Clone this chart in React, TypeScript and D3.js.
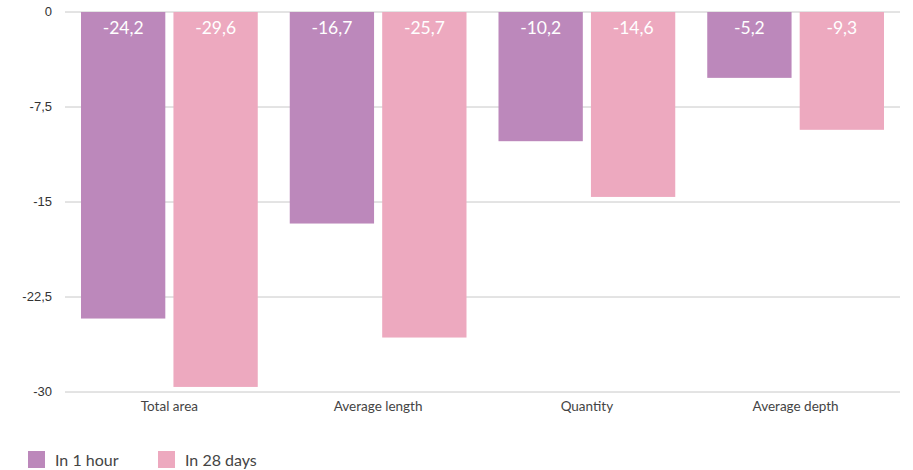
import * as d3 from "d3";

const categories = ["Total area", "Average length", "Quantity", "Average depth"];
const seriesNames = ["In 1 hour", "In 28 days"];
const in1Hour = [-24.2, -16.7, -10.2, -5.2];
const in28Days = [-29.6, -25.7, -14.6, -9.3];
const yTicks = [0, -7.5, -15, -22.5, -30];
const colors = ["#bc88bb", "#eda9bf"];

const width = 913;
const height = 470;
const margin = { top: 12, right: 13, bottom: 78, left: 65 };

const fmt = (v: number) => String(v).replace(".", ",");

export default function App() {
  const innerW = width - margin.left - margin.right;
  const innerH = height - margin.top - margin.bottom;

  const x0 = d3.scaleBand<string>().domain(categories).range([0, innerW]).padding(0);
  const x1 = d3
    .scaleBand<string>()
    .domain(seriesNames)
    .range([16, x0.bandwidth() - 16])
    .paddingInner(0.088);
  const y = d3.scaleLinear().domain([0, -30]).range([0, innerH]);

  const series = [in1Hour, in28Days];

  return (
    <svg width={width} height={height} style={{ position: "absolute", left: 0, top: 0 }}>
      <g transform={`translate(${margin.left},${margin.top})`}>
        {yTicks.map((t) => (
          <g key={t} transform={`translate(0,${y(t)})`}>
            <line x1={0} x2={innerW} stroke="#c8c8c8" strokeWidth={1} />
            <text
              x={-13}
              dy="0.32em"
              textAnchor="end"
              fontFamily="'Liberation Sans', Arial, sans-serif"
              fontSize={13}
              fill="#333"
            >
              {fmt(t)}
            </text>
          </g>
        ))}
        {categories.map((c, i) => (
          <g key={c} transform={`translate(${x0(c)},0)`}>
            {seriesNames.map((s, j) => {
              const v = series[j][i];
              return (
                <g key={s}>
                  <rect
                    x={x1(s)}
                    y={y(0)}
                    width={x1.bandwidth()}
                    height={y(v) - y(0)}
                    fill={colors[j]}
                  />
                  <text
                    x={(x1(s) ?? 0) + x1.bandwidth() / 2}
                    y={21.5}
                    textAnchor="middle"
                    fontFamily="Lato, sans-serif"
                    fontSize={17.5}
                    fill="#fff"
                  >
                    {fmt(v)}
                  </text>
                </g>
              );
            })}
            <text
              x={x0.bandwidth() / 2}
              y={innerH + 19}
              textAnchor="middle"
              fontFamily="Lato, sans-serif"
              fontSize={13.5}
              fill="#444"
            >
              {c}
            </text>
          </g>
        ))}
      </g>
      <g transform="translate(28,451)">
        {seriesNames.map((s, j) => (
          <g key={s} transform={`translate(${j * 130},0)`}>
            <rect width={17} height={17} fill={colors[j]} />
            <text x={27} y={15} fontFamily="Lato, sans-serif" fontSize={16} fill="#444">
              {s}
            </text>
          </g>
        ))}
      </g>
    </svg>
  );
}
